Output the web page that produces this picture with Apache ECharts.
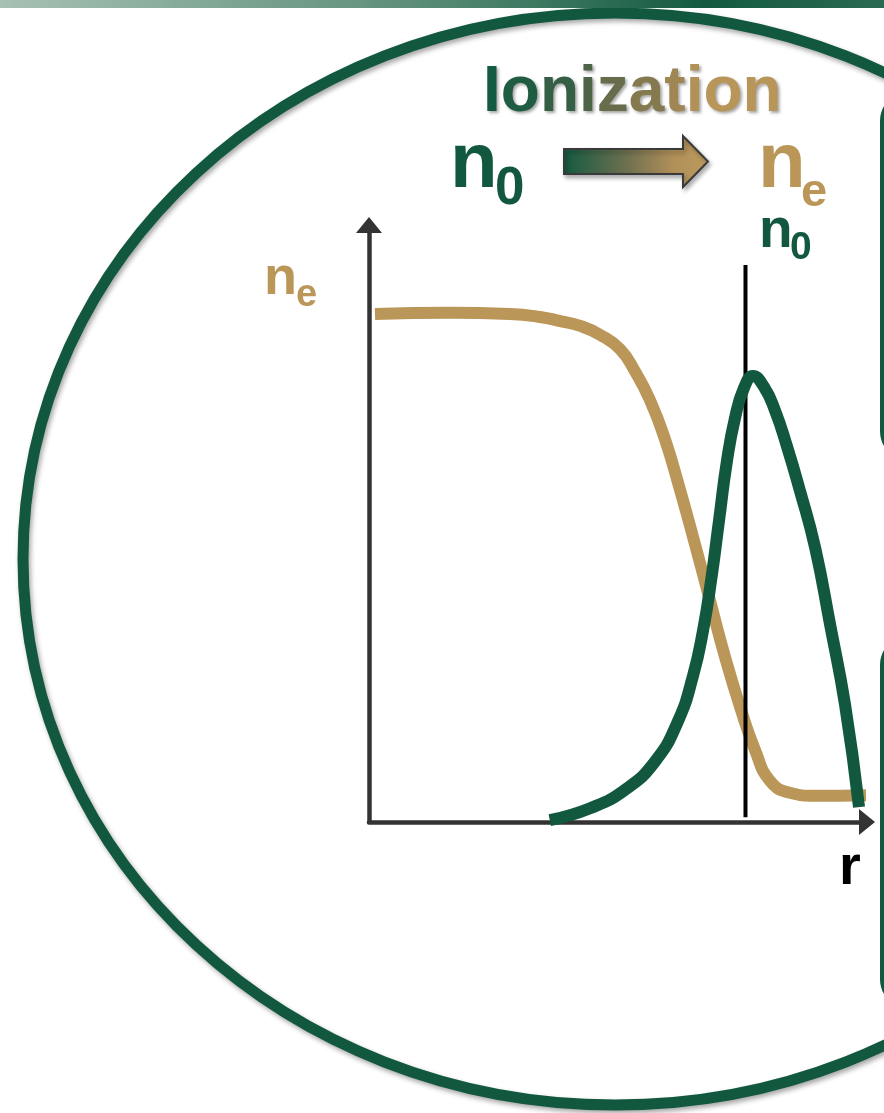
<!DOCTYPE html>
<html>
<head>
<meta charset="utf-8">
<title>Ionization</title>
<script src="https://cdn.jsdelivr.net/npm/echarts@6/dist/echarts.min.js"></script>
<style>
  html, body { margin: 0; padding: 0; background: #fff; }
  #chart { width: 884px; height: 1113px; }
</style>
</head>
<body>
<div id="chart"></div>
<script>
// r (0..100 along the axis), density (0..100 up the axis)
const neR = [1.2, 16.3, 28.3, 34.3, 38.4, 42.4, 46.4, 50.4, 53.4, 56.4, 59.4, 62.4, 65.5, 68.5, 71.5, 74.5, 77.5, 80.5, 84.5, 89.6, 99.8];
const neVal = [85.1, 85.3, 85.1, 84.6, 83.9, 83.1, 81.6, 79.2, 75.5, 70.7, 64.2, 55.8, 46.4, 37.0, 27.6, 19.3, 12.1, 6.9, 4.9, 4.4, 4.5];

const n0R = [36.3, 44.4, 51.4, 57.4, 62.0, 65.1, 67.1, 68.7, 70.3, 71.9, 73.5, 75.3, 77.1, 79.3, 81.5, 83.9, 86.5, 89.6, 92.6, 95.6, 98.4];
const n0Val = [0.3, 2.3, 5.4, 10.1, 16.8, 24.6, 32.2, 40.5, 50.6, 60.6, 67.7, 72.7, 74.7, 72.9, 69.0, 63.0, 55.6, 45.9, 33.0, 19.6, 2.5];

// ionization front marker
const frontR = [75.6, 75.6];
const frontVal = [0.8, 93.3];

const titleLetters = ['I', 'o', 'n', 'i', 'z', 'a', 't', 'i', 'o', 'n'];
const titleColors = ['#145a41', '#1f5c42', '#355f45', '#4d6447', '#686c4b', '#85794f', '#a08654', '#b29159', '#b8965a', '#b8965a'];

const GREEN = '#11583f';
const TAN = '#ba9759';
const FONT = '"Liberation Sans", Arial, sans-serif';

function pairs(xs, ys) {
    return xs.map((x, i) => [x, ys[i]]);
}

const chart = echarts.init(document.getElementById('chart'), null, { renderer: 'canvas' });

// per-letter colours for the gradient title
const rich = {};
let titleText = '';
titleLetters.forEach((ch, i) => {
    rich['c' + i] = {
        fill: titleColors[i],
        fontSize: 64,
        fontWeight: 'bold',
        fontFamily: FONT,
        textShadowColor: 'rgba(0,0,0,0.35)',
        textShadowBlur: 3,
        textShadowOffsetX: 2,
        textShadowOffsetY: 2
    };
    titleText += '{c' + i + '|' + ch + '}';
});

function label(text, x, y, size, color) {
    return {
        type: 'text',
        z: 10,
        style: {
            text: text,
            x: x,
            y: y,
            fill: color,
            font: 'bold ' + size + 'px ' + FONT,
            textAlign: 'left',
            verticalAlign: 'bottom'
        }
    };
}

chart.setOption({
    animation: false,
    backgroundColor: '#fff',
    grid: { left: 369, right: 17, top: 225, bottom: 291 },
    xAxis: {
        type: 'value',
        min: 0,
        max: 100,
        axisLine: {
            show: true,
            onZero: false,
            symbol: ['none', 'triangle'],
            symbolSize: [26, 16],
            lineStyle: { color: '#333', width: 4.5 }
        },
        axisTick: { show: false },
        axisLabel: { show: false },
        splitLine: { show: false }
    },
    yAxis: {
        type: 'value',
        min: 0,
        max: 100,
        axisLine: {
            show: true,
            onZero: false,
            symbol: ['none', 'triangle'],
            symbolSize: [26, 16],
            lineStyle: { color: '#333', width: 4.5 }
        },
        axisTick: { show: false },
        axisLabel: { show: false },
        splitLine: { show: false }
    },
    series: [
        {
            name: 'ne',
            type: 'line',
            data: pairs(neR, neVal),
            smooth: 0.5,
            showSymbol: false,
            z: 3,
            lineStyle: { color: TAN, width: 12, cap: 'butt' }
        },
        {
            name: 'front',
            type: 'line',
            data: pairs(frontR, frontVal),
            showSymbol: false,
            z: 4,
            lineStyle: { color: '#000', width: 4, cap: 'butt' }
        },
        {
            name: 'n0',
            type: 'line',
            data: pairs(n0R, n0Val),
            smooth: 0.5,
            showSymbol: false,
            z: 5,
            lineStyle: { color: GREEN, width: 12, cap: 'butt' }
        }
    ],
    graphic: [
        // top strip
        {
            type: 'rect',
            z: 1,
            shape: { x: 0, y: 0, width: 884, height: 8 },
            style: {
                fill: new echarts.graphic.LinearGradient(0, 0, 1, 0, [
                    { offset: 0, color: '#a7c1b4' },
                    { offset: 0.45, color: '#5f907b' },
                    { offset: 0.8, color: '#135a41' },
                    { offset: 1, color: '#2a6a52' }
                ])
            }
        },
        // big ellipse frame
        {
            type: 'ellipse',
            z: 0,
            shape: { cx: 615, cy: 559, rx: 592, ry: 546 },
            style: {
                fill: 'none',
                stroke: GREEN,
                lineWidth: 11,
                shadowColor: 'rgba(0,0,0,0.35)',
                shadowBlur: 5,
                shadowOffsetX: 2,
                shadowOffsetY: 3
            }
        },
        // boxes on the right edge
        {
            type: 'rect',
            z: 1,
            shape: { x: 882, y: 93, width: 140, height: 366, r: 28 },
            style: { fill: 'none', stroke: GREEN, lineWidth: 4 }
        },
        {
            type: 'rect',
            z: 1,
            shape: { x: 882, y: 637, width: 140, height: 370, r: 28 },
            style: { fill: 'none', stroke: GREEN, lineWidth: 4 }
        },
        // title
        {
            type: 'text',
            z: 10,
            style: {
                text: titleText,
                rich: rich,
                x: 483,
                y: 125,
                font: 'bold 64px ' + FONT,
                textAlign: 'left',
                verticalAlign: 'bottom'
            }
        },
        // arrow n0 -> ne
        {
            type: 'polygon',
            z: 10,
            shape: {
                points: [[564, 149], [683, 149], [683, 136], [708, 161.5], [683, 187], [683, 174], [564, 174]]
            },
            style: {
                fill: new echarts.graphic.LinearGradient(0, 0, 1, 0, [
                    { offset: 0, color: '#135a41' },
                    { offset: 0.45, color: '#717150' },
                    { offset: 0.75, color: '#b08f59' },
                    { offset: 1, color: '#bd9b5d' }
                ]),
                stroke: '#3a3a3a',
                lineWidth: 2,
                shadowColor: 'rgba(0,0,0,0.3)',
                shadowBlur: 4,
                shadowOffsetX: 2,
                shadowOffsetY: 3
            }
        },
        label('n', 450, 204, 78, GREEN),
        label('0', 495, 216, 53, GREEN),
        label('n', 758, 204, 78, TAN),
        label('e', 801, 217, 47, TAN),
        label('n', 759, 259, 55, GREEN),
        label('0', 790, 268, 39, GREEN),
        label('n', 264, 306, 54, TAN),
        label('e', 296, 315, 38, TAN),
        label('r', 839, 897, 56, '#000')
    ]
});
</script>
</body>
</html>
